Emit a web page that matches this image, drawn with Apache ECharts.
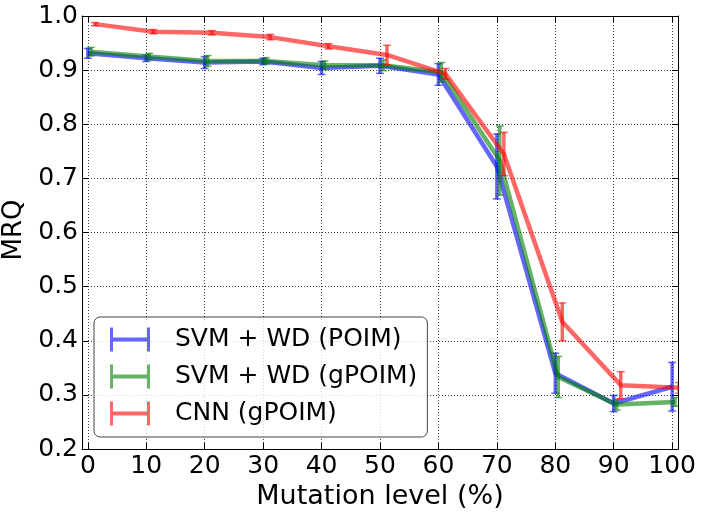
<!DOCTYPE html>
<html><head><meta charset="utf-8">
<script src="https://cdn.jsdelivr.net/npm/echarts@6/dist/echarts.min.js"></script>
<style>html,body{margin:0;padding:0;background:#fff}#c{width:702px;height:515px}</style>
</head><body><div id="c"></div>
<script>
const levels = [0, 10, 20, 30, 40, 50, 60, 70, 80, 90, 100];
const xTickValues = [0, 10, 20, 30, 40, 50, 60, 70, 80, 90, 100];
const seriesNames = ['SVM + WD (POIM)', 'SVM + WD (gPOIM)', 'CNN (gPOIM)'];
const poimMean = [0.931, 0.922, 0.914, 0.916, 0.904, 0.908, 0.892, 0.722, 0.340, 0.284, 0.315];
const poimErr  = [0.009, 0.006, 0.011, 0.006, 0.012, 0.014, 0.020, 0.060, 0.037, 0.015, 0.045];
const gpoimMean = [0.934, 0.925, 0.917, 0.917, 0.909, 0.909, 0.896, 0.733, 0.333, 0.282, 0.287];
const gpoimErr  = [0.008, 0.006, 0.010, 0.006, 0.008, 0.010, 0.018, 0.064, 0.038, 0.010, 0.008];
const cnnMean = [0.985, 0.971, 0.969, 0.961, 0.944, 0.928, 0.893, 0.745, 0.435, 0.318, 0.313];
const cnnErr  = [0.003, 0.004, 0.004, 0.005, 0.005, 0.018, 0.010, 0.040, 0.035, 0.025, 0.010];
const xShift = [0, 0.5, 1.2];

const colors = ['rgba(0,0,255,0.6)', 'rgba(0,128,0,0.6)', 'rgba(255,0,0,0.6)'];
const means = [poimMean, gpoimMean, cnnMean];
const errs = [poimErr, gpoimErr, cnnErr];
const FONT = 'DejaVu Sans';

const chart = echarts.init(document.getElementById('c'), null, {renderer: 'canvas'});

function errRender(color) {
  return function (params, api) {
    const x = api.value(0), lo = api.value(1), hi = api.value(2);
    const a = api.coord([x, lo]), b = api.coord([x, hi]);
    const cap = 4;
    return {
      type: 'group',
      children: [
        {type: 'line', shape: {x1: a[0], y1: a[1], x2: b[0], y2: b[1]}, style: {stroke: color, lineWidth: 3.5}},
        {type: 'line', shape: {x1: a[0] - cap, y1: a[1], x2: a[0] + cap, y2: a[1]}, style: {stroke: color, lineWidth: 1.5}},
        {type: 'line', shape: {x1: b[0] - cap, y1: b[1], x2: b[0] + cap, y2: b[1]}, style: {stroke: color, lineWidth: 1.5}}
      ]
    };
  };
}

const series = [];
for (let s = 0; s < 3; s++) {
  series.push({
    name: seriesNames[s], type: 'line', showSymbol: false, symbol: 'none',
    data: levels.map((l, i) => [l + xShift[s], means[s][i]]),
    lineStyle: {color: colors[s], width: 4.5}, itemStyle: {color: colors[s]},
    z: 2 + s * 2, animation: false, clip: true
  });
  series.push({
    name: seriesNames[s], type: 'custom', clip: true,
    data: levels.map((l, i) => [l + xShift[s], means[s][i] - errs[s][i], means[s][i] + errs[s][i]]),
    renderItem: errRender(colors[s]),
    z: 3 + s * 2, animation: false, silent: true
  });
}

const axisLineStyle = {show: true, onZero: false, lineStyle: {color: '#000', width: 1}};
const tickStyle = {show: true, inside: true, length: 6, lineStyle: {color: '#000', width: 1}};

chart.setOption({
  animation: false,
  backgroundColor: '#fff',
  grid: {left: 82, right: 24, top: 16, bottom: 66, containLabel: false, outerBoundsMode: 'none'},
  xAxis: [{
    type: 'value', min: -1, max: 101, position: 'bottom',
    name: 'Mutation level (%)', nameLocation: 'middle', nameGap: 34,
    nameTextStyle: {fontFamily: FONT, fontSize: 27, color: '#000'},
    axisLine: axisLineStyle,
    axisTick: Object.assign({customValues: xTickValues}, tickStyle),
    axisLabel: {show: true, customValues: xTickValues, margin: 5, fontFamily: FONT, fontSize: 25, color: '#000'},
    splitLine: {show: true, lineStyle: {color: 'rgba(0,0,0,0.75)', width: 1, type: [1, 2]}}
  }, {
    type: 'value', min: -1, max: 101, position: 'top',
    axisLine: axisLineStyle,
    axisTick: Object.assign({customValues: xTickValues}, tickStyle),
    axisLabel: {show: false}, splitLine: {show: false}
  }],
  yAxis: [{
    type: 'value', min: 0.2, max: 1.0, interval: 0.1, position: 'left',
    name: 'MRQ', nameLocation: 'middle', nameGap: 54,
    nameTextStyle: {fontFamily: FONT, fontSize: 26, color: '#000', padding: [0, 0, 0, 5]},
    axisLine: axisLineStyle, axisTick: tickStyle,
    axisLabel: {show: true, margin: 4, fontFamily: FONT, fontSize: 25, color: '#000', formatter: v => v.toFixed(1)},
    splitLine: {show: true, lineStyle: {color: 'rgba(0,0,0,0.75)', width: 1, type: [1, 2]}}
  }, {
    type: 'value', min: 0.2, max: 1.0, interval: 0.1, position: 'right',
    axisLine: axisLineStyle, axisTick: tickStyle,
    axisLabel: {show: false}, splitLine: {show: false}
  }],
  legend: {
    show: true, orient: 'vertical', left: 94, top: 317,
    data: seriesNames.map((n, i) => ({name: n, itemStyle: {color: colors[i], borderWidth: 0}})),
    icon: 'path://M0,0 H3 V10 H37 V0 H40 V24 H37 V14 H3 V24 H0 Z',
    itemWidth: 40, itemHeight: 24, itemGap: 12,
    padding: [10, 10, 11, 16],
    backgroundColor: 'rgba(255,255,255,0.8)', borderColor: '#444', borderWidth: 1, borderRadius: 6,
    textStyle: {fontFamily: FONT, fontSize: 25, color: '#000', lineHeight: 24, padding: [0, 0, 0, 20]},
    selectedMode: false, z: 20
  },
  series: series
});
</script>
</body></html>
